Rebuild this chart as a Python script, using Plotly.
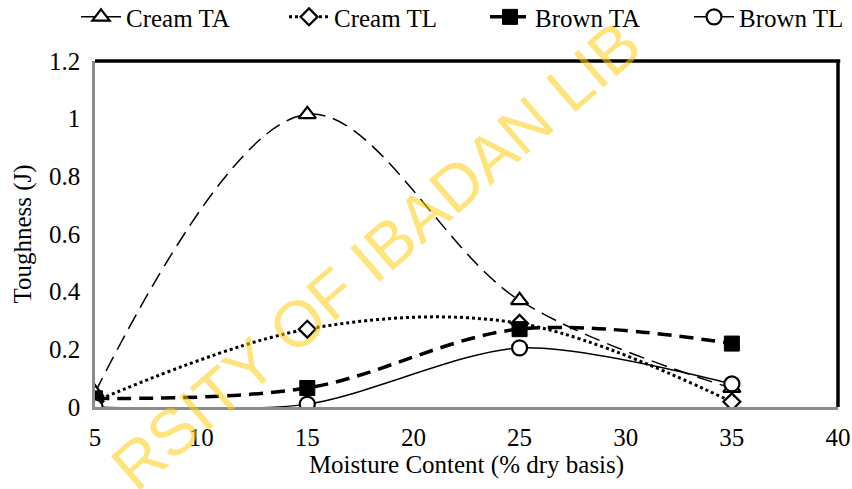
import plotly.graph_objects as go

moisture = [5, 15, 25, 35]
cream_ta = [0.05, 1.015, 0.37, 0.065]
cream_tl = [0.02, 0.27, 0.29, 0.018]
brown_ta = [0.03, 0.066, 0.27, 0.22]
brown_tl = [0.0, 0.01, 0.205, 0.08]

x_ticks = [5, 10, 15, 20, 25, 30, 35, 40]
y_ticks = [0, 0.2, 0.4, 0.6, 0.8, 1.0, 1.2]
y_labels = ["0", "0.2", "0.4", "0.6", "0.8", "1", "1.2"]

FONT = "Liberation Serif, Times New Roman, serif"
FS = 25

fig = go.Figure()

fig.add_trace(go.Scatter(
    x=moisture, y=cream_ta, name="Cream TA", mode="lines+markers", legend="legend",
    line=dict(color="black", width=1.5, dash="16px,8px", shape="spline", smoothing=1.0),
    marker=dict(symbol="triangle-up", size=15, color="white", line=dict(color="black", width=2.2)),
))
fig.add_trace(go.Scatter(
    x=moisture, y=cream_tl, name="Cream TL", mode="lines+markers", legend="legend2",
    line=dict(color="black", width=3, dash="dot", shape="spline", smoothing=1.0),
    marker=dict(symbol="diamond", size=13, color="white", line=dict(color="black", width=2.2)),
))
fig.add_trace(go.Scatter(
    x=moisture, y=brown_ta, name="Brown TA", mode="lines+markers", legend="legend3",
    line=dict(color="black", width=3.5, dash="14px,8px", shape="spline", smoothing=1.0),
    marker=dict(symbol="square", size=15, color="black", line=dict(color="black", width=1)),
))
fig.add_trace(go.Scatter(
    x=moisture, y=brown_tl, name="Brown TL", mode="lines+markers", legend="legend4",
    line=dict(color="black", width=1.5, shape="spline", smoothing=0.8),
    marker=dict(symbol="circle", size=15, color="white", line=dict(color="black", width=2.2)),
))


def leg(xpx):
    return dict(orientation="h", xref="container", x=xpx / 852, xanchor="left",
                yref="container", y=0.965, yanchor="middle",
                font=dict(family=FONT, size=FS), itemwidth=40,
                bgcolor="rgba(0,0,0,0)")


fig.update_layout(
    width=852, height=489,
    margin=dict(l=95, r=14, t=61, b=82, autoexpand=False),
    paper_bgcolor="white", plot_bgcolor="white",
    font=dict(family=FONT, size=FS, color="black"),
    legend=leg(76), legend2=leg(284), legend3=leg(485), legend4=leg(689),
    xaxis=dict(range=[5, 40], tickvals=x_ticks, ticktext=[str(v) for v in x_ticks],
               showgrid=False, zeroline=False, showline=True, linecolor="#8c8c8c", linewidth=2.5,
               ticks="", ticklabelstandoff=6,
               title=dict(text="Moisture Content (% dry basis)", font=dict(size=FS), standoff=6)),
    yaxis=dict(range=[0, 1.2], tickvals=y_ticks, ticktext=y_labels,
               showgrid=False, zeroline=False, showline=True, linecolor="#8c8c8c", linewidth=2.5,
               ticks="", ticklabelstandoff=7,
               title=dict(text="Toughness (J)", font=dict(size=FS), standoff=11)),
    showlegend=True,
)

fig.add_shape(type="line", xref="paper", yref="paper", x0=0, x1=1.003, y0=1, y1=1,
              line=dict(color="black", width=3.5))
fig.add_shape(type="line", xref="paper", yref="paper", x0=1, x1=1, y0=0, y1=1,
              line=dict(color="black", width=3.5))

fig.add_annotation(text="RSITY OF IBADAN LIB", xref="paper", yref="paper",
                   x=0.378, y=0.437, showarrow=False, textangle=-41,
                   font=dict(family="Liberation Sans, Arial, sans-serif", size=65,
                             color="rgba(255,205,20,0.55)"))

fig.write_html("out.html", config={"displayModeBar": False},
               post_script="document.body.style.margin='0';document.body.style.overflow='hidden';")
